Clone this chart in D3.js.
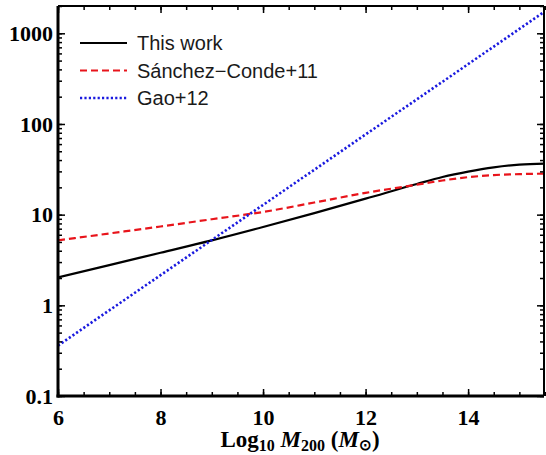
<!DOCTYPE html>
<html>
<head>
<meta charset="utf-8">
<script src="https://cdn.jsdelivr.net/npm/d3@7"></script>
<style>
html,body{margin:0;padding:0;background:#fff;}
svg{display:block;}
</style>
</head>
<body>
<svg id="chart" width="546" height="455"></svg>
<script>
// ---- data ----
const massLog = [6, 7, 8, 9, 10, 11, 12, 13, 13.5, 14, 14.5, 15, 15.5];
const thisWork = [2.03, 2.78, 3.8, 5.2, 7.3, 10.4, 15.0, 21.8, 26.0, 29.8, 33.2, 35.6, 36.6];
const sanchezConde = [5.2, 6.2, 7.4, 8.9, 10.7, 13.6, 17.4, 21.4, 23.8, 25.9, 27.3, 28.0, 28.3];
const gao = [0.36, 0.88, 2.15, 5.25, 12.8, 31.3, 76.6, 187, 292, 457, 714, 1117, 1746];
const seriesNames = ["This work", "Sánchez\u2212Conde+11", "Gao+12"];
const xTickLabels = [6, 8, 10, 12, 14];
const yTickLabels = [0.1, 1, 10, 100, 1000];

// ---- layout ----
const W = 546, H = 455;
const m = {left: 58, right: 1, top: 6, bottom: 59};
const svg = d3.select("#chart");

const x = d3.scaleLinear().domain([6, 15.5]).range([m.left, W - m.right]);
const y = d3.scaleLog().domain([0.1, 2000]).range([H - m.bottom, m.top]);

const g = svg.append("g");

// ---- curves ----
const series = [
  {name: seriesNames[0], vals: thisWork, color: "#000", dash: null, width: 2.2, curve: d3.curveMonotoneX},
  {name: seriesNames[1], vals: sanchezConde, color: "#e8141b", dash: "7,4", width: 2.2, curve: d3.curveMonotoneX},
  {name: seriesNames[2], vals: gao, color: "#1a1adf", dash: "2.2,2.2", width: 2.6, curve: d3.curveLinear}
];

svg.append("clipPath").attr("id", "clip").append("rect")
  .attr("x", m.left).attr("y", m.top)
  .attr("width", W - m.left - m.right).attr("height", H - m.top - m.bottom);

series.forEach(s => {
  const line = d3.line().x((d, i) => x(massLog[i])).y(d => y(d)).curve(s.curve);
  g.append("path")
    .attr("clip-path", "url(#clip)")
    .attr("d", line(s.vals))
    .attr("fill", "none")
    .attr("stroke", s.color)
    .attr("stroke-width", s.width)
    .attr("stroke-dasharray", s.dash);
});

// ---- axes ----
const xMinor = d3.range(6, 15.51, 0.5);
const yMinor = [];
for (let e = -1; e <= 3; e++) for (let k = 1; k <= 9; k++) { const v = k * Math.pow(10, e); if (v <= 2000) yMinor.push(v); }

const axisG = svg.append("g");
// bottom
axisG.append("g").attr("transform", `translate(0,${H - m.bottom})`)
  .call(d3.axisBottom(x).tickValues(xMinor).tickSizeInner(-4).tickSizeOuter(0).tickFormat(""))
  .call(a => a.select(".domain").remove());
axisG.append("g").attr("transform", `translate(0,${H - m.bottom})`)
  .call(d3.axisBottom(x).tickValues(xTickLabels).tickSizeInner(-7).tickSizeOuter(0).tickPadding(13).tickFormat(d3.format("d")))
  .call(a => a.select(".domain").remove());
// top
axisG.append("g").attr("transform", `translate(0,${m.top})`)
  .call(d3.axisTop(x).tickValues(xMinor).tickSizeInner(-4).tickSizeOuter(0).tickFormat(""))
  .call(a => a.select(".domain").remove());
axisG.append("g").attr("transform", `translate(0,${m.top})`)
  .call(d3.axisTop(x).tickValues(xTickLabels).tickSizeInner(-7).tickSizeOuter(0).tickFormat(""))
  .call(a => a.select(".domain").remove());
// left
axisG.append("g").attr("transform", `translate(${m.left},0)`)
  .call(d3.axisLeft(y).tickValues(yMinor).tickSizeInner(-4).tickSizeOuter(0).tickFormat(""))
  .call(a => a.select(".domain").remove());
axisG.append("g").attr("transform", `translate(${m.left},0)`)
  .call(d3.axisLeft(y).tickValues(yTickLabels).tickSizeInner(-7).tickSizeOuter(0).tickPadding(5).tickFormat(d => String(d)))
  .call(a => a.select(".domain").remove());
// right
axisG.append("g").attr("transform", `translate(${W - m.right - 1},0)`)
  .call(d3.axisRight(y).tickValues(yMinor).tickSizeInner(-4).tickSizeOuter(0).tickFormat(""))
  .call(a => a.select(".domain").remove());
axisG.append("g").attr("transform", `translate(${W - m.right - 1},0)`)
  .call(d3.axisRight(y).tickValues(yTickLabels).tickSizeInner(-7).tickSizeOuter(0).tickFormat(""))
  .call(a => a.select(".domain").remove());

axisG.selectAll(".tick line").attr("stroke", "#000").attr("stroke-width", 1.5);
axisG.selectAll(".tick text")
  .attr("font-family", "Liberation Serif, Times New Roman, serif")
  .attr("font-weight", "bold")
  .attr("font-size", 22)
  .attr("fill", "#000");

// frame
const fx0 = m.left, fx1 = W - m.right - 1, fy0 = m.top, fy1 = H - m.bottom;
svg.append("line").attr("x1", fx0).attr("x2", fx1).attr("y1", fy0).attr("y2", fy0).attr("stroke", "#000").attr("stroke-width", 2);
svg.append("line").attr("x1", fx1).attr("x2", fx1).attr("y1", fy0).attr("y2", fy1).attr("stroke", "#000").attr("stroke-width", 2);
svg.append("line").attr("x1", fx0 - 1.5).attr("x2", fx1).attr("y1", fy1).attr("y2", fy1).attr("stroke", "#000").attr("stroke-width", 3);
svg.append("line").attr("x1", fx0).attr("x2", fx0).attr("y1", fy0).attr("y2", fy1 + 1.5).attr("stroke", "#000").attr("stroke-width", 3);

// ---- x title ----
const title = svg.append("text")
  .attr("x", 300).attr("y", 447)
  .attr("text-anchor", "middle")
  .attr("font-family", "Liberation Serif, Times New Roman, serif")
  .attr("font-weight", "bold")
  .attr("font-size", 23)
  .attr("fill", "#000");
title.append("tspan").text("Log");
title.append("tspan").attr("font-size", 16).attr("dy", 4).text("10");
title.append("tspan").attr("dy", -4).text(" ");
title.append("tspan").attr("font-style", "italic").text("M");
title.append("tspan").attr("font-size", 16).attr("dy", 4).text("200");
title.append("tspan").attr("dy", -4).text(" (");
title.append("tspan").attr("font-style", "italic").text("M");
title.append("tspan").attr("font-size", 15).attr("dy", 3).text("\u2299");
title.append("tspan").attr("dy", -3).text(")");

// ---- legend ----
const lg = svg.append("g");
series.forEach((s, i) => {
  const yy = 43 + i * 27.5;
  lg.append("line").attr("x1", 80).attr("x2", 127).attr("y1", yy).attr("y2", yy)
    .attr("stroke", s.color).attr("stroke-width", s.width).attr("stroke-dasharray", s.dash);
  lg.append("text").attr("x", 137).attr("y", yy + 7)
    .attr("font-family", "Liberation Sans, Arial, sans-serif")
    .attr("font-size", 20).attr("fill", "#1a1a1a").text(s.name);
});
</script>
</body>
</html>
